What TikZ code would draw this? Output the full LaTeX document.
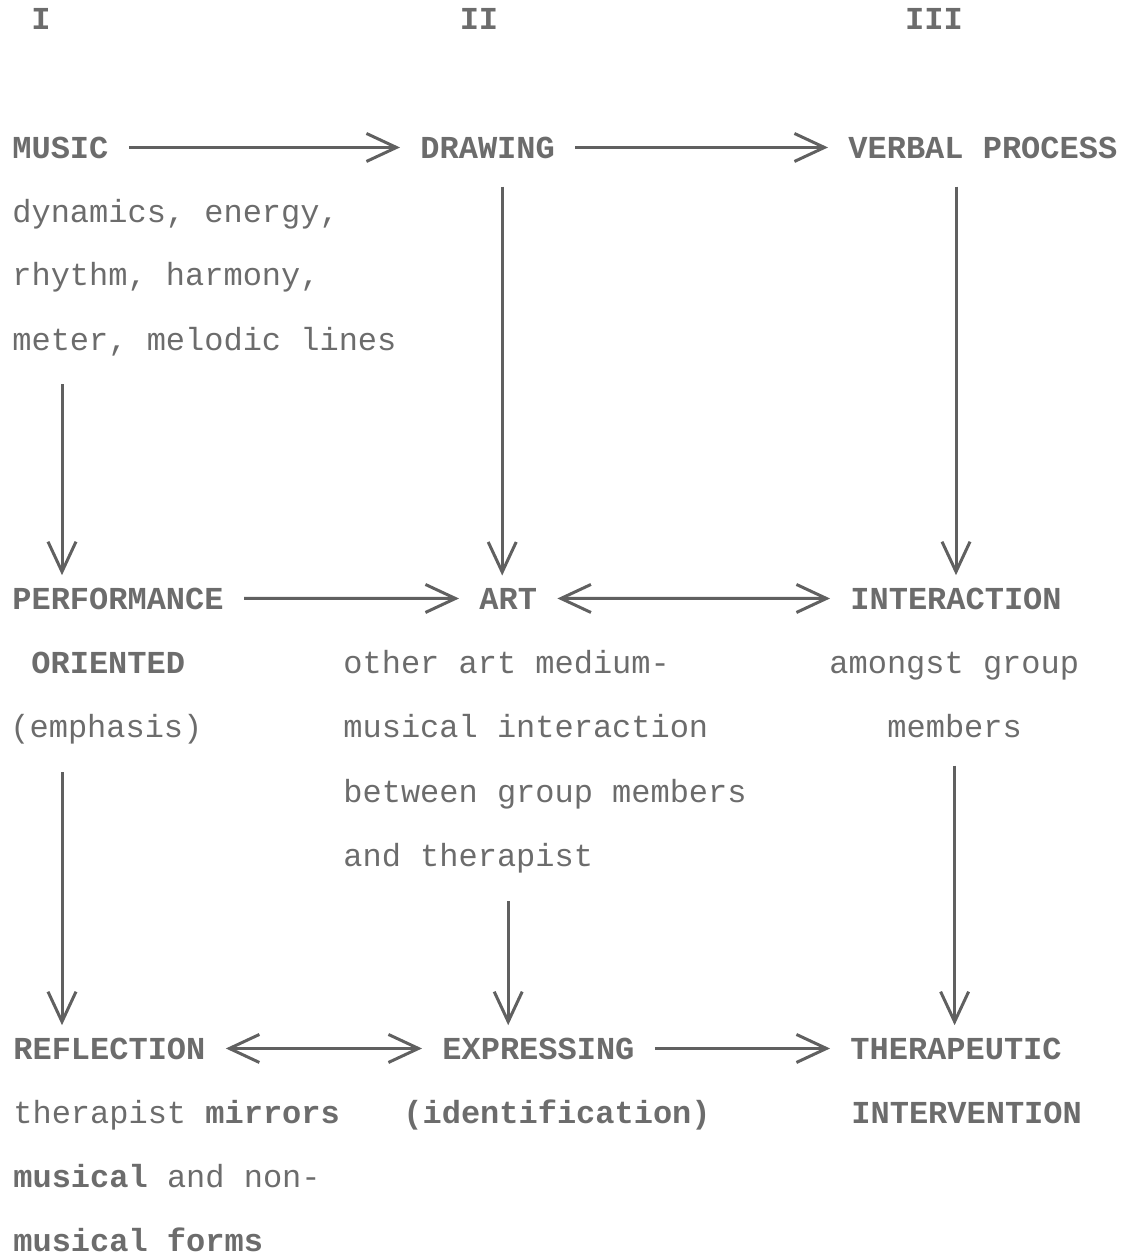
\documentclass[tikz,border=0pt]{standalone}
\usepackage{fontspec}
\newfontfamily\typer{Liberation Mono}
\usetikzlibrary{arrows.meta}
\definecolor{inkgray}{RGB}{108,108,108}
\definecolor{linegray}{RGB}{96,96,96}
\tikzset{
	txt/.style={anchor=base west, inner sep=0pt, text=inkgray, font=\typer\fontsize{16}{19}\selectfont},
	hd/.style={txt, font=\typer\fontsize{16}{19}\selectfont\bfseries},
	hconn/.style={draw=linegray, line width=1.5pt, shorten <=10pt, shorten >=10pt},
	vconn/.style={draw=linegray, line width=1.5pt, shorten <=14pt, shorten >=6pt}
}
\begin{document}
\begin{tikzpicture}[x=0.5pt,y=-0.5pt,>={Straight Barb[length=15pt,width=14pt]}]
		\useasboundingbox (0,0) rectangle (1129,1255);
		% column numbers
		\node[hd,anchor=base] (c1) at (41,29) {I};
		\node[hd,anchor=base] (c2) at (479,29) {II};
		\node[hd,anchor=base] (c3) at (934,29) {III};
		% first row
		\node[hd] (music) at (12,158) {MUSIC};
		\node[hd] (drawing) at (420,158) {DRAWING};
		\node[hd] (verbal) at (848,158) {VERBAL PROCESS};
		\node[txt] (dyn) at (12,222) {dynamics, energy,};
		\node[txt] (rhy) at (12,285) {rhythm, harmony,};
		\node[txt] (meter) at (12,350) {meter, melodic lines};
		% second row
		\node[hd] (perf) at (12,609) {PERFORMANCE};
		\node[hd] (art) at (479,609) {ART};
		\node[hd] (inter) at (850,609) {INTERACTION};
		\node[hd] (orient) at (31,673) {ORIENTED};
		\node[txt] (emph) at (10,737) {(emphasis)};
		\node[txt] (medium) at (343,673) {other art medium-};
		\node[txt] (musint) at (343,737) {musical interaction};
		\node[txt] (between) at (343,802) {between group members};
		\node[txt] (andther) at (343,866) {and therapist};
		\node[txt] (amongst) at (829,673) {amongst group};
		\node[txt] (members) at (887,737) {members};
		% third row
		\node[hd] (refl) at (13,1059) {REFLECTION};
		\node[hd] (expr) at (442,1059) {EXPRESSING};
		\node[hd] (thera) at (850,1059) {THERAPEUTIC};
		\node[txt] (mirrors) at (13,1123) {therapist \textbf{mirrors}};
		\node[hd] (ident) at (403,1123) {(identification)};
		\node[hd] (interv) at (851,1123) {INTERVENTION};
		\node[txt] (nonmus) at (13,1187) {\textbf{musical} and non-};
		\node[hd] (forms) at (13,1251) {musical forms};
		% horizontal arrows
		\draw[hconn,->] (music.east) -- (drawing.west);
		\draw[hconn,->] (drawing.east) -- (verbal.west);
		\draw[hconn,->] (perf.east) -- (art.west);
		\draw[hconn,<->] (art.east) -- (inter.west);
		\draw[hconn,<->] (refl.east) -- (expr.west);
		\draw[hconn,->] (expr.east) -- (thera.west);
		% vertical arrows
		\draw[vconn,->] ([xshift=25pt]meter.south west) -- ([xshift=25pt]perf.north west);
		\draw[vconn,->] ([xshift=-3pt]drawing.south -| art.north) -- ([xshift=-3pt]art.north);
		\draw[vconn,->] (verbal.south -| inter.north) -- (inter.north);
		\draw[vconn,->] ([xshift=26pt]emph.south west) -- ([xshift=26pt]emph.south west |- refl.north);
		\draw[vconn,->] (andther.south -| art.south) -- (expr.north -| art.south);
		\draw[vconn,->] (members.south) -- (members.south |- thera.north);
	\end{tikzpicture}
\end{document}
